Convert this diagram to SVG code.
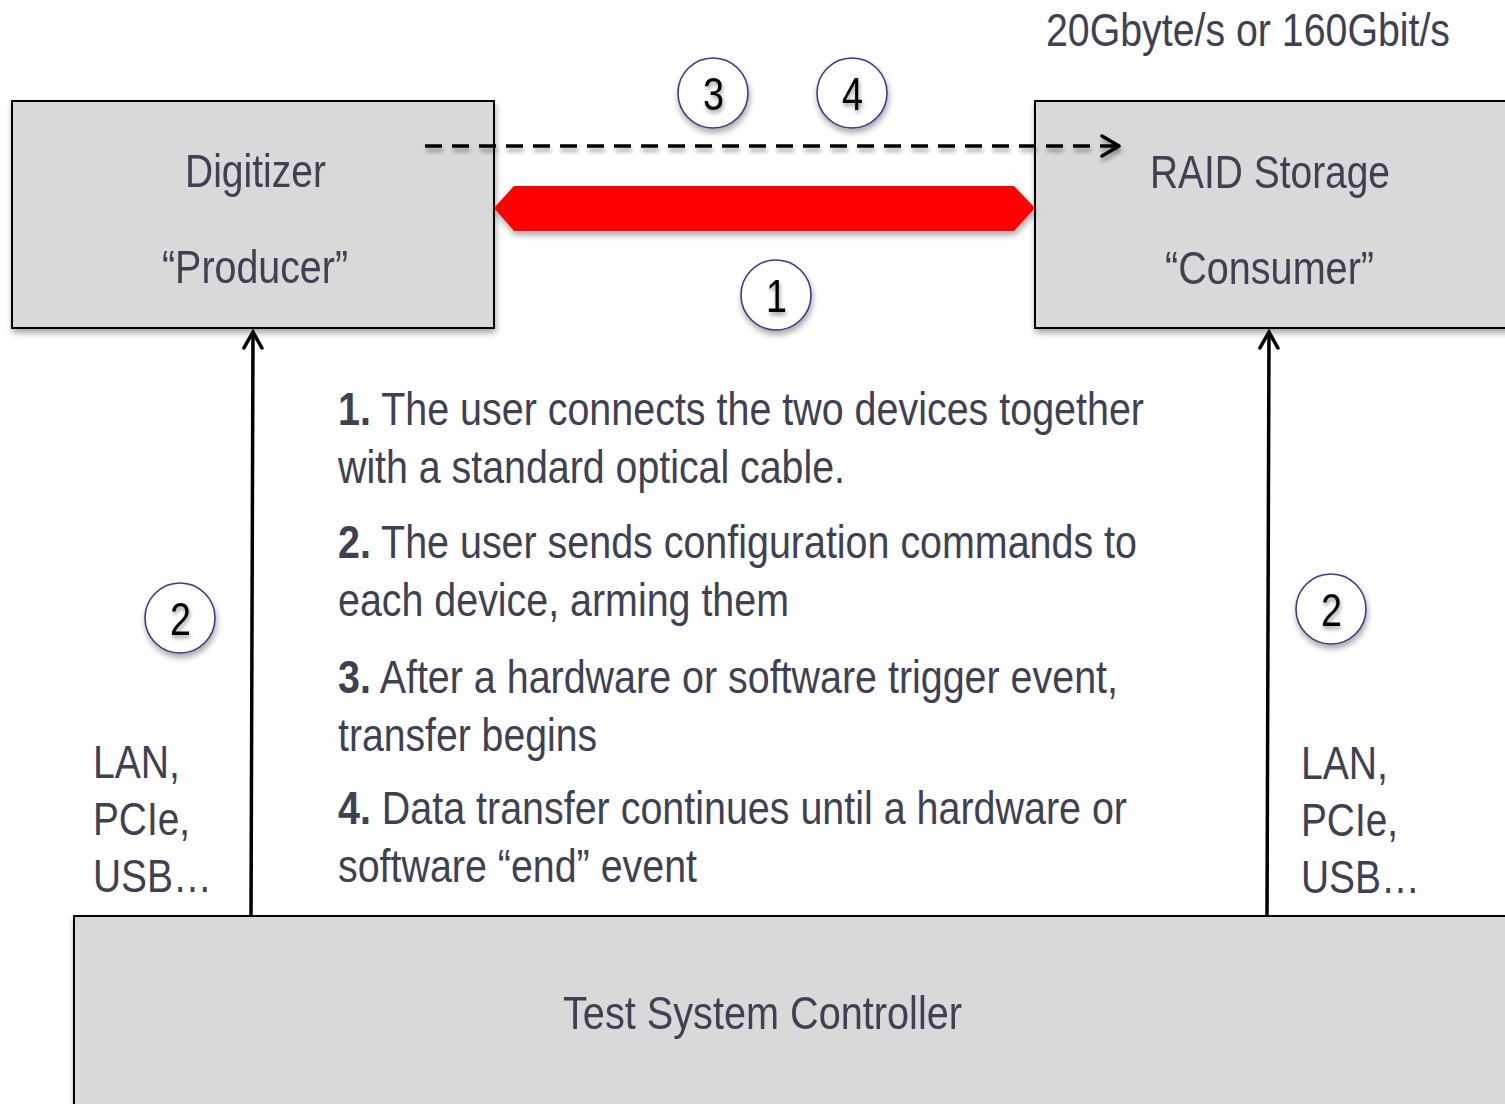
<svg xmlns="http://www.w3.org/2000/svg" width="1505" height="1104" viewBox="0 0 1505 1104">
  <defs>
    <filter id="shadow" x="-10%" y="-10%" width="130%" height="140%">
      <feGaussianBlur in="SourceAlpha" stdDeviation="3"/>
      <feOffset dx="1" dy="4" result="b"/>
      <feComponentTransfer><feFuncA type="linear" slope="0.35"/></feComponentTransfer>
      <feMerge><feMergeNode/><feMergeNode in="SourceGraphic"/></feMerge>
    </filter>
    <filter id="txtshadow" x="-20%" y="-20%" width="140%" height="160%">
      <feGaussianBlur in="SourceAlpha" stdDeviation="2"/>
      <feOffset dx="1" dy="3"/>
      <feComponentTransfer><feFuncA type="linear" slope="0.4"/></feComponentTransfer>
      <feMerge><feMergeNode/><feMergeNode in="SourceGraphic"/></feMerge>
    </filter>
    <!-- user-space region so a zero-height line keeps its shadow -->
    <filter id="lineshadow" filterUnits="userSpaceOnUse" x="400" y="120" width="760" height="60">
      <feGaussianBlur in="SourceAlpha" stdDeviation="2"/>
      <feOffset dx="1" dy="4"/>
      <feComponentTransfer><feFuncA type="linear" slope="0.35"/></feComponentTransfer>
      <feMerge><feMergeNode/><feMergeNode in="SourceGraphic"/></feMerge>
    </filter>
    <marker id="chev" viewBox="0 0 24 24" refX="21" refY="12" markerWidth="24" markerHeight="24" markerUnits="userSpaceOnUse" orient="auto">
      <path d="M5,3 L21,12 L5,21" fill="none" stroke="#000" stroke-width="3.5" stroke-linecap="round"/>
    </marker>
  </defs>
  <style>
    .box { fill: #d9d9d9; stroke: #000; stroke-width: 2; }
    .lbl { font-family: "Liberation Sans Narrow", "Liberation Sans", Arial, sans-serif; fill: #3f4153; font-size: 47px; }
    .num { font-family: "Liberation Sans Narrow", "Liberation Sans", Arial, sans-serif; fill: #000; font-size: 46px; }
    .badge { fill: #fff; stroke: #3a3d86; stroke-width: 1.6; }
    .wire { stroke: #000; stroke-width: 3.5; fill: none; }
    .b { font-weight: bold; }
  </style>

  <rect width="1505" height="1104" fill="#fff"/>

  <!-- Rate label -->
  <text class="lbl" x="1046" y="46" textLength="404" lengthAdjust="spacingAndGlyphs">20Gbyte/s or 160Gbit/s</text>

  <!-- Digitizer -->
  <g id="digitizer" filter="url(#shadow)">
    <rect class="box" x="12" y="101" width="482" height="227"/>
    <text class="lbl" x="185" y="187" textLength="141" lengthAdjust="spacingAndGlyphs">Digitizer</text>
    <text class="lbl" x="162" y="283" textLength="186" lengthAdjust="spacingAndGlyphs">“Producer”</text>
  </g>

  <!-- RAID Storage -->
  <g id="raid" filter="url(#shadow)">
    <rect class="box" x="1035" y="101" width="490" height="227"/>
    <text class="lbl" x="1150" y="188" textLength="240" lengthAdjust="spacingAndGlyphs">RAID Storage</text>
    <text class="lbl" x="1165" y="284" textLength="209" lengthAdjust="spacingAndGlyphs">“Consumer”</text>
  </g>

  <!-- Test System Controller -->
  <g id="controller" filter="url(#shadow)">
    <rect class="box" x="74" y="916" width="1450" height="210"/>
    <text class="lbl" x="563" y="1029" textLength="399" lengthAdjust="spacingAndGlyphs">Test System Controller</text>
  </g>

  <!-- Connectors -->
  <g id="connectors">
    <polygon id="optical-cable" points="494,208 514,186 1014,186 1035,208 1014,231 514,231" fill="#ff0000" filter="url(#shadow)"/>
    <path id="data-flow" class="wire" d="M425,146 H1118" stroke-dasharray="17,10" filter="url(#lineshadow)"/>
    <path d="M1102,136 L1119,146 L1102,156" class="wire" stroke-width="3.5" stroke-linecap="round" stroke-linejoin="round" filter="url(#lineshadow)"/>
    <line id="ctrl-left" class="wire" x1="251" y1="916" x2="253" y2="332" stroke-width="3" marker-end="url(#chev)"/>
    <line id="ctrl-right" class="wire" x1="1267" y1="916" x2="1269" y2="332" stroke-width="3" marker-end="url(#chev)"/>
  </g>

  <!-- Step badges -->
  <g id="badge-3" filter="url(#shadow)">
    <circle class="badge" cx="713" cy="93" r="35"/>
    <text class="num" x="703" y="110" textLength="21" lengthAdjust="spacingAndGlyphs" filter="url(#txtshadow)">3</text>
  </g>
  <g id="badge-4" filter="url(#shadow)">
    <circle class="badge" cx="852" cy="93" r="35"/>
    <text class="num" x="842" y="110" textLength="21" lengthAdjust="spacingAndGlyphs" filter="url(#txtshadow)">4</text>
  </g>
  <g id="badge-1" filter="url(#shadow)">
    <circle class="badge" cx="776" cy="295" r="35"/>
    <text class="num" x="766" y="312" textLength="21" lengthAdjust="spacingAndGlyphs" filter="url(#txtshadow)">1</text>
  </g>
  <g id="badge-2-left" filter="url(#shadow)">
    <circle class="badge" cx="180" cy="618" r="35"/>
    <text class="num" x="170" y="635" textLength="21" lengthAdjust="spacingAndGlyphs" filter="url(#txtshadow)">2</text>
  </g>
  <g id="badge-2-right" filter="url(#shadow)">
    <circle class="badge" cx="1331" cy="609" r="35"/>
    <text class="num" x="1321" y="626" textLength="21" lengthAdjust="spacingAndGlyphs" filter="url(#txtshadow)">2</text>
  </g>

  <!-- Interface labels -->
  <g id="iface-left">
    <text class="lbl" x="93" y="778" textLength="87" lengthAdjust="spacingAndGlyphs">LAN,</text>
    <text class="lbl" x="93" y="835" textLength="97" lengthAdjust="spacingAndGlyphs">PCIe,</text>
    <text class="lbl" x="93" y="892" textLength="119" lengthAdjust="spacingAndGlyphs">USB…</text>
  </g>
  <g id="iface-right">
    <text class="lbl" x="1301" y="779" textLength="87" lengthAdjust="spacingAndGlyphs">LAN,</text>
    <text class="lbl" x="1301" y="836" textLength="97" lengthAdjust="spacingAndGlyphs">PCIe,</text>
    <text class="lbl" x="1301" y="893" textLength="119" lengthAdjust="spacingAndGlyphs">USB…</text>
  </g>

  <!-- Step descriptions -->
  <g id="steps">
    <text class="lbl" x="338" y="425" textLength="806" lengthAdjust="spacingAndGlyphs"><tspan class="b">1.</tspan> The user connects the two devices together</text>
    <text class="lbl" x="338" y="483" textLength="507" lengthAdjust="spacingAndGlyphs">with a standard optical cable.</text>
    <text class="lbl" x="338" y="558" textLength="799" lengthAdjust="spacingAndGlyphs"><tspan class="b">2.</tspan> The user sends configuration commands to</text>
    <text class="lbl" x="338" y="616" textLength="451" lengthAdjust="spacingAndGlyphs">each device, arming them</text>
    <text class="lbl" x="338" y="693" textLength="780" lengthAdjust="spacingAndGlyphs"><tspan class="b">3.</tspan> After a hardware or software trigger event,</text>
    <text class="lbl" x="338" y="751" textLength="259" lengthAdjust="spacingAndGlyphs">transfer begins</text>
    <text class="lbl" x="338" y="824" textLength="789" lengthAdjust="spacingAndGlyphs"><tspan class="b">4.</tspan> Data transfer continues until a hardware or</text>
    <text class="lbl" x="338" y="882" textLength="359" lengthAdjust="spacingAndGlyphs">software “end” event</text>
  </g>
</svg>
